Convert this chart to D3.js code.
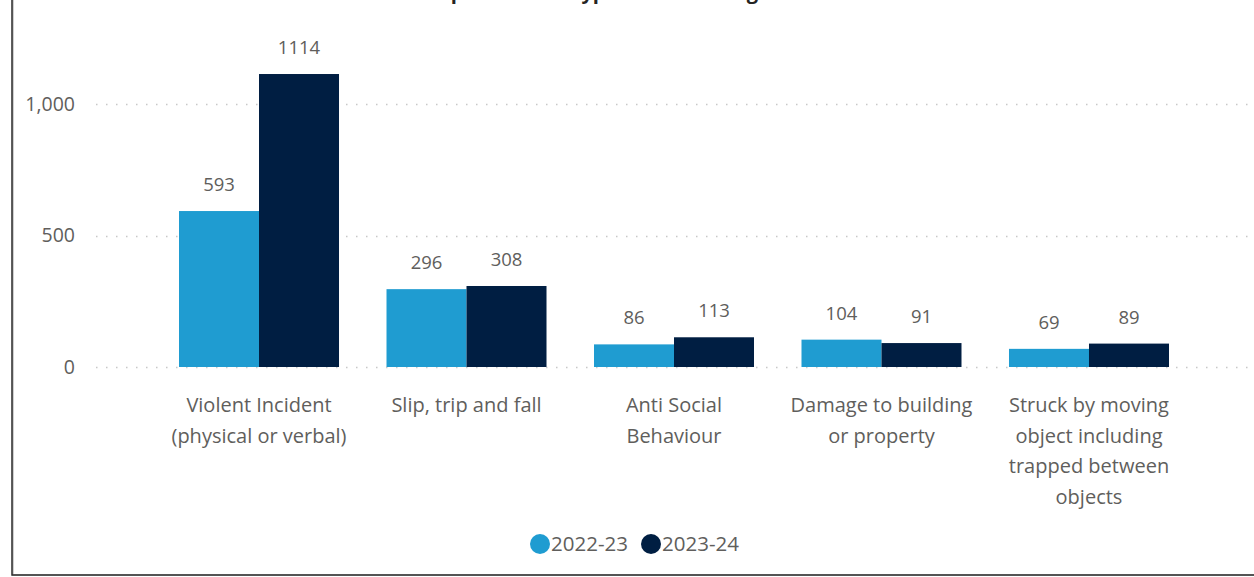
<!DOCTYPE html>
<html>
<head>
<meta charset="utf-8">
<script src="https://cdn.jsdelivr.net/npm/d3@7"></script>
<style>
  html, body { margin: 0; padding: 0; background: #ffffff; overflow: hidden; }
  svg { display: block; }
  text { font-family: "Open Sans", "Noto Sans", sans-serif; }
</style>
</head>
<body>
<svg id="chart" width="1254" height="577"></svg>
<script>
const chartTitle = "Top 5 Incident types across Categories";
const categories = [
  "Violent Incident (physical or verbal)",
  "Slip, trip and fall",
  "Anti Social Behaviour",
  "Damage to building or property",
  "Struck by moving object including trapped between objects"
];
const categoryLines = [
  ["Violent Incident", "(physical or verbal)"],
  ["Slip, trip and fall"],
  ["Anti Social", "Behaviour"],
  ["Damage to building", "or property"],
  ["Struck by moving", "object including", "trapped between", "objects"]
];
const seriesNames = ["2022-23", "2023-24"];
const values2022 = [593, 296, 86, 104, 69];
const values2023 = [1114, 308, 113, 91, 89];
const yTicks = [0, 500, 1000];
const colors = ["#1F9CD1", "#001E42"];

const svg = d3.select("#chart");

// frame
svg.append("rect").attr("x", 13).attr("y", -10).attr("width", 1300).attr("height", 585)
  .attr("fill", "none").attr("stroke", "#d0d0d0").attr("stroke-width", 2);
svg.append("rect").attr("x", 12).attr("y", -10).attr("width", 1300).attr("height", 585)
  .attr("fill", "none").attr("stroke", "#2b2b2b").attr("stroke-width", 1.5);

// title (mostly clipped off top, as in the reference)
svg.append("text").attr("x", 617).attr("y", -1)
  .attr("text-anchor", "middle").attr("font-size", 20).attr("font-weight", 700)
  .attr("fill", "#252423").text(chartTitle);

const y = d3.scaleLinear().domain([0, 1000]).range([367, 104]);
const x0 = d3.scaleBand().domain(categories).range([155.25, 1192.75])
  .paddingInner(0.2289).paddingOuter(0.1145);
const x1 = d3.scaleBand().domain(seriesNames).range([0, x0.bandwidth()]).padding(0);

// gridlines
const grid = svg.append("g");
grid.selectAll("line").data(yTicks).enter().append("line")
  .attr("x1", 96).attr("x2", 1250)
  .attr("y1", d => Math.round(y(d)) + 0.5).attr("y2", d => Math.round(y(d)) + 0.5)
  .attr("stroke", "#c8c8c8").attr("stroke-width", 1.5)
  .attr("stroke-dasharray", "1.5,8.5");

// y axis labels
const yAxis = d3.axisLeft(y).tickValues(yTicks).tickSize(0).tickPadding(0)
  .tickFormat(d3.format(","));
const yg = svg.append("g").attr("transform", "translate(75,0)").call(yAxis);
yg.select(".domain").remove();
yg.selectAll("text").attr("font-size", 19.5).attr("fill", "#605E5C")
  .attr("font-family", "\"Open Sans\", sans-serif");

// bars
const rows = categories.map((c, i) => ({ cat: c, vals: [values2022[i], values2023[i]] }));
const groups = svg.append("g").selectAll("g").data(rows).enter().append("g")
  .attr("transform", d => `translate(${x0(d.cat)},0)`);
groups.selectAll("rect").data(d => d.vals.map((v, j) => ({ s: seriesNames[j], v, j })))
  .enter().append("rect")
  .attr("x", d => x1(d.s)).attr("width", x1.bandwidth())
  .attr("y", d => y(d.v)).attr("height", d => y(0) - y(d.v))
  .attr("fill", d => colors[d.j]);
groups.selectAll("text.val").data(d => d.vals.map((v, j) => ({ s: seriesNames[j], v, j })))
  .enter().append("text").attr("class", "val")
  .attr("x", d => x1(d.s) + x1.bandwidth() / 2)
  .attr("y", d => y(d.v) - 20)
  .attr("text-anchor", "middle").attr("font-size", 18.5).attr("fill", "#605E5C")
  .text(d => d.v);

// category labels
const xl = svg.append("g");
categories.forEach((c, i) => {
  const t = xl.append("text").attr("x", x0(c) + x0.bandwidth() / 2).attr("y", 412)
    .attr("text-anchor", "middle").attr("font-size", 20).attr("fill", "#605E5C");
  categoryLines[i].forEach((ln, k) => {
    t.append("tspan").attr("x", x0(c) + x0.bandwidth() / 2).attr("dy", k === 0 ? 0 : 30.5).text(ln);
  });
});

// legend
const legend = svg.append("g");
const legendX = [540, 651];
seriesNames.forEach((s, i) => {
  legend.append("circle").attr("cx", legendX[i]).attr("cy", 544).attr("r", 10).attr("fill", colors[i]);
  legend.append("text").attr("x", legendX[i] + 11).attr("y", 551)
    .attr("font-size", 20.5).attr("fill", "#605E5C").text(s);
});
</script>
</body>
</html>
